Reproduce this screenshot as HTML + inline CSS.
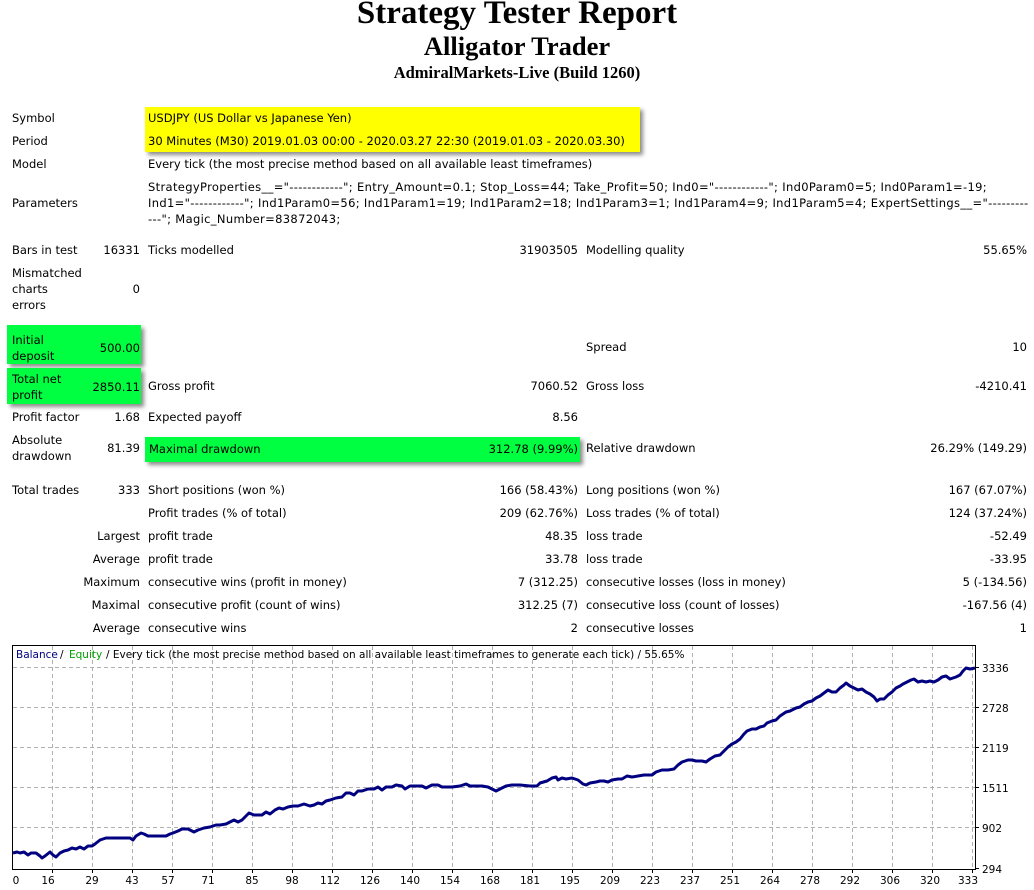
<!DOCTYPE html>
<html><head><meta charset="utf-8"><style>
html,body{margin:0;padding:0;background:#fff;}
body{width:1034px;height:890px;position:relative;overflow:hidden;font-family:"DejaVu Sans","Liberation Sans",sans-serif;font-size:11.5px;color:#000;}
.t{position:absolute;white-space:nowrap;line-height:16px;}
.r{text-align:right;}
.p{letter-spacing:0.34px;}
.h{position:absolute;left:0;width:1034px;text-align:center;font-family:"Liberation Serif",serif;font-weight:bold;}
.box{position:absolute;box-shadow:3px 3px 4px rgba(0,0,0,0.45);}
</style></head><body>
<div class="h" style="top:-5px;font-size:33px;">Strategy Tester Report</div>
<div class="h" style="top:31px;font-size:26.5px;">Alligator Trader</div>
<div class="h" style="top:63px;font-size:16.5px;">AdmiralMarkets-Live (Build 1260)</div>

<div class="box" style="left:145px;top:107px;width:495px;height:45px;background:#ffff00;"></div>
<div class="box" style="left:7px;top:325px;width:134px;height:39px;background:#00ff40;"></div>
<div class="box" style="left:7px;top:368px;width:134px;height:36px;background:#00ff40;"></div>
<div class="box" style="left:145px;top:437px;width:435px;height:25px;background:#00ff40;"></div>

<div class="t" style="left:12px;top:110px;">Symbol</div>
<div class="t" style="left:148px;top:110px;">USDJPY (US Dollar vs Japanese Yen)</div>
<div class="t" style="left:12px;top:133px;">Period</div>
<div class="t" style="left:148px;top:133px;">30 Minutes (M30) 2019.01.03 00:00 - 2020.03.27 22:30 (2019.01.03 - 2020.03.30)</div>
<div class="t" style="left:12px;top:156px;">Model</div>
<div class="t" style="left:148px;top:156px;">Every tick (the most precise method based on all available least timeframes)</div>
<div class="t" style="left:12px;top:195px;">Parameters</div>
<div class="t p" style="left:148px;top:179px;">StrategyProperties__="------------"; Entry_Amount=0.1; Stop_Loss=44; Take_Profit=50; Ind0="------------"; Ind0Param0=5; Ind0Param1=-19;</div>
<div class="t p" style="left:148px;top:195px;">Ind1="------------"; Ind1Param0=56; Ind1Param1=19; Ind1Param2=18; Ind1Param3=1; Ind1Param4=9; Ind1Param5=4; ExpertSettings__="---------</div>
<div class="t p" style="left:148px;top:211px;">---"; Magic_Number=83872043;</div>

<div class="t" style="left:12px;top:242px;">Bars in test</div>
<div class="t r" style="right:894px;top:242px;">16331</div>
<div class="t" style="left:148px;top:242px;">Ticks modelled</div>
<div class="t r" style="right:456px;top:242px;">31903505</div>
<div class="t" style="left:586px;top:242px;">Modelling quality</div>
<div class="t r" style="right:7px;top:242px;">55.65%</div>

<div class="t" style="left:12px;top:265px;">Mismatched</div>
<div class="t" style="left:12px;top:281px;">charts</div>
<div class="t" style="left:12px;top:297px;">errors</div>
<div class="t r" style="right:894px;top:281px;">0</div>

<div class="t" style="left:12px;top:332px;">Initial</div>
<div class="t" style="left:12px;top:348px;">deposit</div>
<div class="t r" style="right:894px;top:340px;">500.00</div>
<div class="t" style="left:586px;top:339px;">Spread</div>
<div class="t r" style="right:7px;top:339px;">10</div>

<div class="t" style="left:12px;top:371px;">Total net</div>
<div class="t" style="left:12px;top:387px;">profit</div>
<div class="t r" style="right:894px;top:379px;">2850.11</div>
<div class="t" style="left:148px;top:378px;">Gross profit</div>
<div class="t r" style="right:456px;top:378px;">7060.52</div>
<div class="t" style="left:586px;top:378px;">Gross loss</div>
<div class="t r" style="right:7px;top:378px;">-4210.41</div>

<div class="t" style="left:12px;top:409px;">Profit factor</div>
<div class="t r" style="right:894px;top:409px;">1.68</div>
<div class="t" style="left:148px;top:409px;">Expected payoff</div>
<div class="t r" style="right:456px;top:409px;">8.56</div>

<div class="t" style="left:12px;top:432px;">Absolute</div>
<div class="t" style="left:12px;top:448px;">drawdown</div>
<div class="t r" style="right:894px;top:440px;">81.39</div>
<div class="t" style="left:149px;top:441px;">Maximal drawdown</div>
<div class="t r" style="right:456px;top:441px;">312.78 (9.99%)</div>
<div class="t" style="left:586px;top:440px;">Relative drawdown</div>
<div class="t r" style="right:7px;top:440px;">26.29% (149.29)</div>

<div class="t" style="left:12px;top:482px;">Total trades</div>
<div class="t r" style="right:894px;top:482px;">333</div>
<div class="t" style="left:148px;top:482px;">Short positions (won %)</div>
<div class="t r" style="right:456px;top:482px;">166 (58.43%)</div>
<div class="t" style="left:586px;top:482px;">Long positions (won %)</div>
<div class="t r" style="right:7px;top:482px;">167 (67.07%)</div>

<div class="t" style="left:148px;top:505px;">Profit trades (% of total)</div>
<div class="t r" style="right:456px;top:505px;">209 (62.76%)</div>
<div class="t" style="left:586px;top:505px;">Loss trades (% of total)</div>
<div class="t r" style="right:7px;top:505px;">124 (37.24%)</div>

<div class="t r" style="right:894px;top:528px;">Largest</div>
<div class="t" style="left:148px;top:528px;">profit trade</div>
<div class="t r" style="right:456px;top:528px;">48.35</div>
<div class="t" style="left:586px;top:528px;">loss trade</div>
<div class="t r" style="right:7px;top:528px;">-52.49</div>

<div class="t r" style="right:894px;top:551px;">Average</div>
<div class="t" style="left:148px;top:551px;">profit trade</div>
<div class="t r" style="right:456px;top:551px;">33.78</div>
<div class="t" style="left:586px;top:551px;">loss trade</div>
<div class="t r" style="right:7px;top:551px;">-33.95</div>

<div class="t r" style="right:894px;top:574px;">Maximum</div>
<div class="t" style="left:148px;top:574px;">consecutive wins (profit in money)</div>
<div class="t r" style="right:456px;top:574px;">7 (312.25)</div>
<div class="t" style="left:586px;top:574px;">consecutive losses (loss in money)</div>
<div class="t r" style="right:7px;top:574px;">5 (-134.56)</div>

<div class="t r" style="right:894px;top:597px;">Maximal</div>
<div class="t" style="left:148px;top:597px;">consecutive profit (count of wins)</div>
<div class="t r" style="right:456px;top:597px;">312.25 (7)</div>
<div class="t" style="left:586px;top:597px;">consecutive loss (count of losses)</div>
<div class="t r" style="right:7px;top:597px;">-167.56 (4)</div>

<div class="t r" style="right:894px;top:620px;">Average</div>
<div class="t" style="left:148px;top:620px;">consecutive wins</div>
<div class="t r" style="right:456px;top:620px;">2</div>
<div class="t" style="left:586px;top:620px;">consecutive losses</div>
<div class="t r" style="right:7px;top:620px;">1</div>

<svg style="position:absolute;left:0;top:640px;" width="1034" height="250" viewBox="0 640 1034 250" font-family="DejaVu Sans, Liberation Sans, sans-serif" font-size="10.5">
<g stroke="#b0b0b0" stroke-width="1" stroke-dasharray="4,3" fill="none">
<path d="M13 667.5H975M13 707.5H975M13 747.5H975M13 787.5H975M13 827.5H975"/>
<path d="M52.5 646V869M92.5 646V869M132.5 646V869M172.5 646V869M212.5 646V869M252.5 646V869M292.5 646V869M332.5 646V869M372.5 646V869M412.5 646V869M452.5 646V869M492.5 646V869M532.5 646V869M572.5 646V869M612.5 646V869M652.5 646V869M692.5 646V869M732.5 646V869M772.5 646V869M812.5 646V869M852.5 646V869M892.5 646V869M932.5 646V869M972.5 646V869"/>
</g>
<rect x="12.5" y="645.5" width="963" height="224" fill="none" stroke="#000" stroke-width="1"/>
<g stroke="#000"><path d="M975 667.5h4M975 707.5h4M975 747.5h4M975 787.5h4M975 827.5h4M975 868.5h4"/>
<path d="M52.5 869v4M92.5 869v4M132.5 869v4M172.5 869v4M212.5 869v4M252.5 869v4M292.5 869v4M332.5 869v4M372.5 869v4M412.5 869v4M452.5 869v4M492.5 869v4M532.5 869v4M572.5 869v4M612.5 869v4M652.5 869v4M692.5 869v4M732.5 869v4M772.5 869v4M812.5 869v4M852.5 869v4M892.5 869v4M932.5 869v4M972.5 869v4"/></g>
<polyline fill="none" stroke="#000080" stroke-width="3" stroke-linejoin="round" points="13,853 17,852 20,853 24,852 28,855 31,853 36,853 40,856 42,858 45,856 50,852 53,855 56,857 60,853 64,851 68,850 72,848 76,849 80,847 84,849 88,846 92,846 95,844 100,840 106,838 118,838 130,838 133,840 136,836 141,833 144,834 148,836 160,836 166,836 170,834 173,833 178,831 182,829 188,829 194,832 198,830 204,828 210,827 216,825 220,825 226,824 230,822 234,820 238,822 242,820 246,816 249,813 254,815 262,815 266,812 270,814 275,810 279,808 283,809 288,807 293,806 298,806 304,804 310,806 314,805 318,803 322,804 326,801 330,800 336,798 342,797 346,793 350,793 354,795 358,791 362,791 368,789 374,789 378,787 382,790 386,787 392,787 396,785 402,786 405,789 410,786 416,786 422,786 426,788 432,785 438,785 442,787 452,787 460,786 466,784 470,786 476,786 482,786 488,787 492,789 496,791 500,789 506,786 512,785 516,785 520,785 530,786 537,786 540,783 547,781 552,778 556,777 558,780 562,778 566,779 572,778 578,780 583,784 586,785 590,783 596,782 600,781 604,781 608,782 612,780 618,779 622,779 627,776 632,777 638,776 644,775 652,775 656,772 662,770 668,770 674,769 678,765 682,762 688,760 692,760 696,761 702,761 706,762 710,759 715,756 720,755 724,751 728,747 732,744 736,742 740,739 744,734 747,731 752,729 756,729 760,727 764,726 767,723 772,721 776,720 780,716 786,712 790,711 796,708 800,707 804,704 808,702 812,701 816,698 820,696 824,693 828,690 832,692 836,692 840,688 844,685 846,683 850,686 854,688 858,690 862,689 866,692 870,694 874,697 877,701 880,699 884,699 888,695 892,692 896,688 900,686 903,684 907,682 911,680 914,679 918,682 922,681 926,682 930,681 934,682 938,680 942,677 946,676 950,679 956,677 960,675 963,671 966,668 970,669 975,668"/>
<text x="16" y="658" fill="#000080">Balance</text><text x="60" y="658" fill="#000"> / </text><text x="69" y="658" fill="#00a000">Equity</text><text x="106" y="658" fill="#000"> / Every tick (the most precise method based on all available least timeframes to generate each tick) / 55.65%</text>
<g fill="#000" text-anchor="start"><text x="982" y="672">3336</text><text x="982" y="712">2728</text><text x="982" y="752">2119</text><text x="982" y="792">1511</text><text x="982" y="832">902</text><text x="982" y="873">294</text></g>
<g fill="#000" text-anchor="middle"><text x="16" y="884">0</text><text x="48" y="884">16</text><text x="92" y="884">29</text><text x="132" y="884">43</text><text x="168" y="884">57</text><text x="208" y="884">71</text><text x="252" y="884">85</text><text x="292" y="884">98</text><text x="330" y="884">112</text><text x="370" y="884">126</text><text x="410" y="884">140</text><text x="450" y="884">154</text><text x="490" y="884">168</text><text x="530" y="884">181</text><text x="570" y="884">195</text><text x="610" y="884">209</text><text x="650" y="884">223</text><text x="690" y="884">237</text><text x="730" y="884">251</text><text x="770" y="884">264</text><text x="810" y="884">278</text><text x="850" y="884">292</text><text x="890" y="884">306</text><text x="930" y="884">320</text><text x="968" y="884">333</text></g>
</svg>
</body></html>
